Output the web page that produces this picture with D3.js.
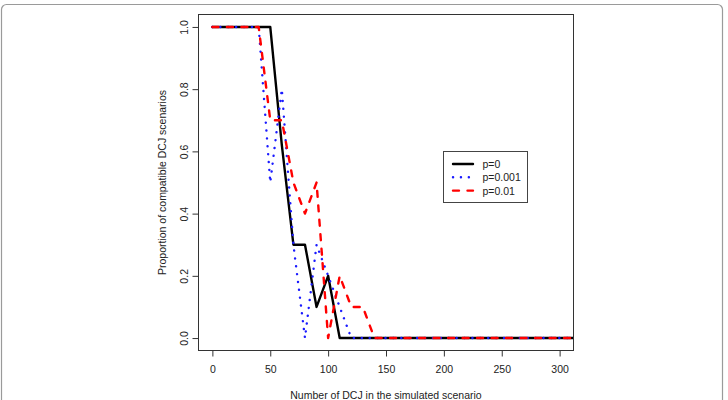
<!DOCTYPE html>
<html><head><meta charset="utf-8">
<script src="https://cdn.jsdelivr.net/npm/d3@7"></script>
<style>
html,body{margin:0;padding:0;background:#fff;}
svg{display:block;font-family:"Liberation Sans",Arial,Helvetica,sans-serif;}
</style></head>
<body>
<svg id="chart" width="728" height="400"></svg>
<script>
// ---- data ----
const xValues = [0,10,20,30,40,50,60,70,80,90,100,110,120,130,140,150,160,170,180,190,200,210,220,230,240,250,260,270,280,290,300,310,320];
const seriesP0    = [1,1,1,1,1,1,0.62,0.3,0.3,0.1,0.2,0,0,0,0,0,0,0,0,0,0,0,0,0,0,0,0,0,0,0,0,0,0];
const seriesP0001 = [1,1,1,1,1,0.5,0.8,0.3,0,0.3,0.2,0.1,0,0,0,0,0,0,0,0,0,0,0,0,0,0,0,0,0,0,0,0,0];
const seriesP001  = [1,1,1,1,1,0.7,0.7,0.5,0.4,0.5,0,0.2,0.1,0.1,0,0,0,0,0,0,0,0,0,0,0,0,0,0,0,0,0,0,0];
const seriesNames = ["p=0","p=0.001","p=0.01"];
const xTicks = [0,50,100,150,200,250,300];
const yTicks = [0,0.2,0.4,0.6,0.8,1.0];
const xTitle = "Number of DCJ in the simulated scenario";
const yTitle = "Proportion of compatible DCJ scenarios";

// ---- layout ----
const svg = d3.select("#chart");
const box = {left:198.5, right:573.5, top:14.5, bottom:350.5};
const x = d3.scaleLinear().domain([-12, 312]).range([box.left, box.right]);
const y = d3.scaleLinear().domain([-0.04, 1.04]).range([box.bottom, box.top]);

// outer frame
svg.append("rect").attr("x",1.5).attr("y",4.5).attr("width",721).attr("height",420)
  .attr("rx",5).attr("fill","none").attr("stroke","#9a9a9a").attr("stroke-width",1.2);

svg.append("defs").append("clipPath").attr("id","clip")
  .append("rect").attr("x",box.left).attr("y",box.top)
  .attr("width",box.right-box.left).attr("height",box.bottom-box.top);

const styles = [
  {color:"#000000", dash:null, width:2.4},
  {color:"#1a1aff", dash:"0.1,7.8", width:2.4},
  {color:"#ff0000", dash:"6,8.5", width:2.4}
];
const allSeries = [seriesP0, seriesP0001, seriesP001];

const line = d3.line().x(d=>x(d[0])).y(d=>y(d[1]));
const g = svg.append("g").attr("clip-path","url(#clip)");
allSeries.forEach((s,i)=>{
  g.append("path").datum(xValues.map((v,j)=>[v,s[j]]))
    .attr("d",line).attr("fill","none")
    .attr("stroke",styles[i].color).attr("stroke-width",styles[i].width)
    .attr("stroke-linecap","round").attr("stroke-linejoin","round")
    .attr("stroke-dasharray",styles[i].dash);
});

// box
svg.append("rect").attr("x",box.left).attr("y",box.top)
  .attr("width",box.right-box.left).attr("height",box.bottom-box.top)
  .attr("fill","none").attr("stroke","#333").attr("stroke-width",1);

// x axis
const xAxis = d3.axisBottom(x).tickValues(xTicks).tickSize(6).tickPadding(9).tickFormat(d3.format("d"));
const gx = svg.append("g").attr("transform",`translate(0,${box.bottom})`).call(xAxis);
gx.select(".domain").remove();
gx.selectAll("line").attr("stroke","#333");
gx.selectAll("text").attr("font-size","10.5px").attr("fill","#222")
  .attr("font-family","Liberation Sans, Arial, sans-serif");

// y axis
const yAxis = d3.axisLeft(y).tickValues(yTicks).tickSize(6).tickFormat(d3.format(".1f"));
const gy = svg.append("g").attr("transform",`translate(${box.left},0)`).call(yAxis);
gy.select(".domain").remove();
gy.selectAll("line").attr("stroke","#333");
gy.selectAll("text").attr("font-size","10.5px").attr("fill","#222")
  .attr("font-family","Liberation Sans, Arial, sans-serif")
  .attr("x",0).attr("dy",null).attr("text-anchor","middle")
  .attr("transform","translate(-15,0) rotate(-90)")
  .attr("dominant-baseline","central");

// titles
svg.append("text").attr("x",(box.left+box.right)/2).attr("y",399)
  .attr("text-anchor","middle").attr("font-size","10.5px").attr("fill","#222").text(xTitle);
svg.append("text").attr("transform",`translate(162,${(box.top+box.bottom)/2}) rotate(-90)`)
  .attr("text-anchor","middle").attr("dominant-baseline","central")
  .attr("font-size","10.5px").attr("fill","#222").text(yTitle);

// legend
const lg = svg.append("g");
lg.append("rect").attr("x",443.5).attr("y",151.5).attr("width",84).attr("height",51)
  .attr("fill","#fff").attr("stroke","#444").attr("stroke-width",1);
seriesNames.forEach((n,i)=>{
  const ly = 164 + i*13.3;
  lg.append("line").attr("x1",453).attr("x2",473).attr("y1",ly).attr("y2",ly)
    .attr("stroke",styles[i].color).attr("stroke-width",styles[i].width)
    .attr("stroke-linecap","round").attr("stroke-dasharray",styles[i].dash);
  lg.append("text").attr("x",482.5).attr("y",ly).attr("dominant-baseline","central")
    .attr("font-size","10.5px").attr("fill","#222").text(n);
});
</script>
</body></html>
